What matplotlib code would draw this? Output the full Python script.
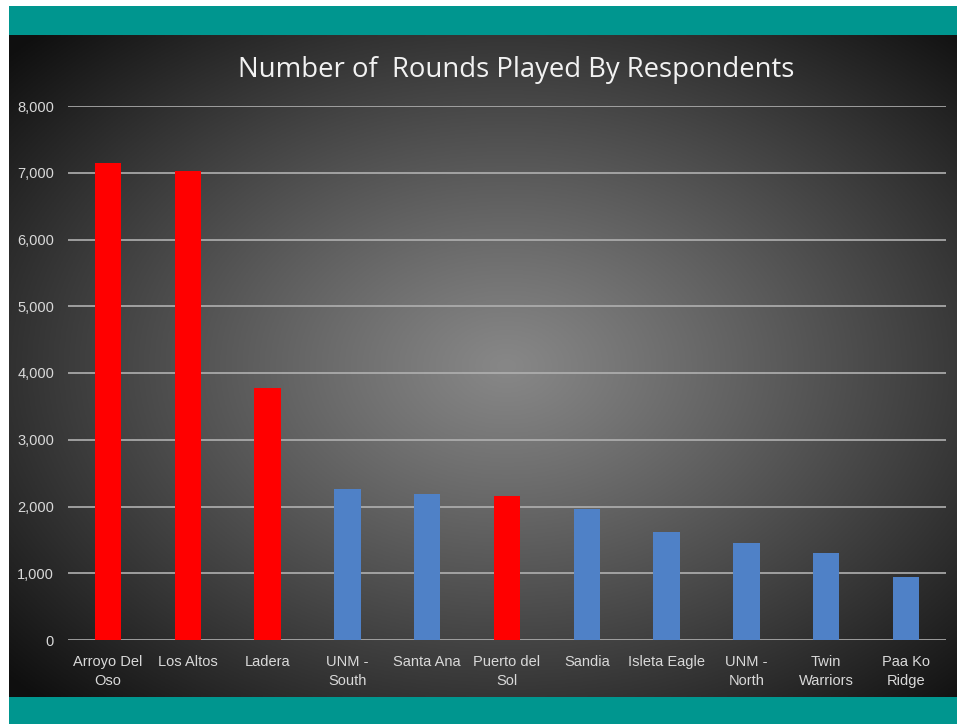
import numpy as np
import matplotlib.pyplot as plt
from matplotlib.ticker import FuncFormatter

# -------------------------------
# Data
# -------------------------------
courses = ["Arroyo Del\nOso", "Los Altos", "Ladera", "UNM -\nSouth", "Santa Ana",
           "Puerto del\nSol", "Sandia", "Isleta Eagle", "UNM -\nNorth", "Twin\nWarriors",
           "Paa Ko\nRidge"]
rounds = [7140, 7020, 3770, 2260, 2190, 2160, 1960, 1620, 1450, 1300, 950]
highlight = [True, True, True, False, False, True, False, False, False, False, False]
y_ticks = [0, 1000, 2000, 3000, 4000, 5000, 6000, 7000, 8000]

W, H = 958, 724
fig = plt.figure(figsize=(W / 100, H / 100), dpi=100)
fig.patch.set_facecolor("white")

# -------------------------------
# Slide background
# -------------------------------
sl, sr = 9 / W, 957 / W
top_band = (6 / H, 35 / H)
bot_band = (697 / H, 724 / H)

teal = "#00968f"
bg = fig.add_axes([sl, 1 - bot_band[0], sr - sl, bot_band[0] - top_band[1]])
bg.axis("off")
gx, gy = np.meshgrid(np.linspace(-1.05, 0.95, 400), np.linspace(-1, 1, 300))
r = np.sqrt(gx ** 2 + gy ** 2) / np.sqrt(2)
shade = 0.53 - 0.47 * np.clip(r, 0, 1) ** 1.1
bg.imshow(np.dstack([shade] * 3), aspect="auto", extent=[0, 1, 0, 1], zorder=0)
bg.set_xlim(0, 1)
bg.set_ylim(0, 1)

for band in (top_band, bot_band):
    b = fig.add_axes([sl, 1 - band[1], sr - sl, band[1] - band[0]])
    b.set_facecolor(teal)
    b.set_xticks([]); b.set_yticks([])
    for s in b.spines.values():
        s.set_visible(False)

# -------------------------------
# Chart
# -------------------------------
x0, x1 = 68 / W, 946 / W
y8000, y0 = 106 / H, 640 / H
ax = fig.add_axes([x0, 1 - y0, x1 - x0, y0 - y8000])
ax.patch.set_alpha(0)
x = np.arange(len(courses))
colors = ["#ff0000" if h else "#4f81c7" for h in highlight]
ax.bar(x, rounds, width=0.33, color=colors, zorder=3)
ax.set_xlim(-0.5, len(courses) - 0.5)
ax.set_ylim(0, 8000)
ax.set_yticks(y_ticks)
ax.yaxis.set_major_formatter(FuncFormatter(lambda v, p: f"{int(v):,}"))
ax.grid(axis="y", color="#b0b0b0", linewidth=1.2, zorder=1)
ax.set_xticks(x)
ax.set_xticklabels(courses, linespacing=1.4)
ax.tick_params(axis="both", length=0, colors="#d9d9d9", labelsize=10.5)
ax.tick_params(axis="x", pad=11)
ax.tick_params(axis="y", pad=10)
for s in ax.spines.values():
    s.set_visible(False)
for lab in ax.get_xticklabels() + ax.get_yticklabels():
    lab.set_fontfamily("Liberation Sans")

fig.text(516 / W, 1 - 70 / H, "Number of  Rounds Played By Respondents",
         ha="center", va="center", fontsize=19.8, color="#f2f2f2", family="Open Sans")

fig.savefig("out.png", dpi=100, facecolor=fig.get_facecolor())
